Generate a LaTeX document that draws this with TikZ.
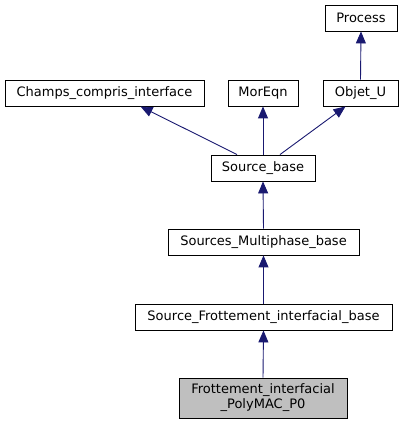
\documentclass[tikz,border=0pt]{standalone}
\usepackage{fontspec}
\setmainfont{DejaVu Sans}
\usetikzlibrary{arrows.meta}
\definecolor{edgeblue}{RGB}{25,25,112}
\definecolor{leafgray}{RGB}{191,191,191}
\tikzset{cls/.style={rectangle,draw=black,fill=white,line width=0.9pt,inner sep=0pt,minimum height=26pt,font=\fontsize{13}{15}\selectfont,align=center}}
\tikzset{inh/.style={draw=edgeblue,line width=0.9pt,-{Triangle[length=12pt,width=10pt]}}}

\begin{document}
\begin{tikzpicture}[x=1pt,y=1pt]
	\useasboundingbox (0,0) rectangle (403,425);
	\node[cls,minimum width=72pt] (proc) at (361,407) {Process};
	\node[cls,minimum width=199pt] (champs) at (104.5,332) {Champs\_compris\_interface};
	\node[cls,minimum width=70pt] (mor) at (263,332) {MorEqn};
	\node[cls,minimum width=75pt] (obj) at (360.5,332) {Objet\_U};
	\node[cls,minimum width=104pt] (sb) at (263,257) {Source\_base};
	\node[cls,minimum width=191pt] (smb) at (263.5,183) {Sources\_Multiphase\_base};
	\node[cls,minimum width=257pt] (sfib) at (263.5,108) {Source\_Frottement\_interfacial\_base};
	\node[cls,fill=leafgray,minimum width=168pt,minimum height=40pt] (leaf) at (263,27) {Frottement\_interfacial\\\_PolyMAC\_P0};
	\draw[inh] (obj.north) -- (proc.south);
	\draw[inh] ([xshift=-26pt]sb.north) -- ([xshift=36pt]champs.south);
	\draw[inh] (sb.north) -- (mor.south);
	\draw[inh] ([xshift=17pt]sb.north) -- ([xshift=-15pt]obj.south);
	\draw[inh] (smb.north) -- (sb.south);
	\draw[inh] (sfib.north) -- (smb.south);
	\draw[inh] (leaf.north) -- (sfib.south);
      \end{tikzpicture}
\end{document}
